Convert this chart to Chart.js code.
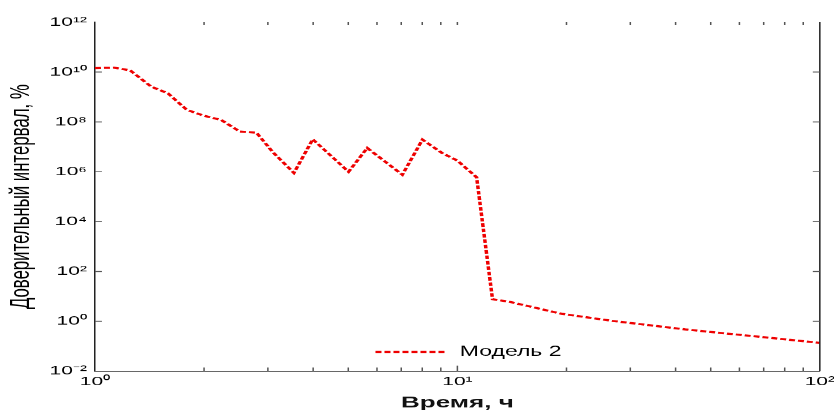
<!DOCTYPE html>
<html>
<head>
<meta charset="utf-8">
<script src="https://cdn.jsdelivr.net/npm/chart.js@4/dist/chart.umd.min.js"></script>
<style>
  html, body { margin: 0; padding: 0; background: #fff; overflow: hidden; }
  #wrap { width: 834px; height: 410px; overflow: hidden; }
  /* the source figure is squashed vertically, so the chart is drawn tall and scaled down */
  #chart { transform: scaleY(0.6); transform-origin: 0 0; }
</style>
</head>
<body>
<div id="wrap">
  <canvas id="chart" width="840" height="691"></canvas>
</div>
<script>
// ----------------------------
// Data
// ----------------------------
const timeH = [1, 1.13, 1.25, 1.43, 1.59, 1.79, 1.99, 2.23, 2.51, 2.79, 3.1, 3.54, 3.99,
  5.01, 5.64, 7.05, 8.01, 9.1, 10, 11.3, 12.5, 13.9, 19.4, 26.9, 42.5, 100];
const model2 = [1.45e10, 1.5e10, 1.17e10, 2.6e9, 1.4e9, 3.1e8, 1.8e8, 1.2e8, 4.1e7, 3.7e7, 6e6, 9e5, 2e7,
  1e6, 9e6, 7.6e5, 1.95e7, 5.5e6, 2.8e6, 6e5, 7.7, 6.1, 2.0, 1.03, 0.475, 0.137];

const xMajor = [1, 10, 100];
const xMinor = [2, 3, 4, 5, 6, 7, 8, 9, 20, 30, 40, 50, 60, 70, 80, 90];
const yMajor = [1e-2, 1e0, 1e2, 1e4, 1e6, 1e8, 1e10, 1e12];

const seriesLabel = 'Модель 2';
const xTitle = 'Время, ч';
const yTitle = 'Доверительный интервал, %';

// ----------------------------
// Helpers
// ----------------------------
const SUP = { '-': '⁻', '0': '⁰', '1': '¹', '2': '²', '3': '³', '4': '⁴', '5': '⁵', '6': '⁶', '7': '⁷', '8': '⁸', '9': '⁹' };
function powLabel(v) {
  const e = String(Math.round(Math.log10(v)));
  return '10' + e.split('').map(c => SUP[c]).join('');
}
const isMajor = (list, v) => list.some(m => Math.abs(Math.log10(m) - Math.log10(v)) < 1e-6);

// inward ticks on all four sides + right frame line
const frameTicks = {
  id: 'frameTicks',
  afterDatasetsDraw(chart) {
    const { ctx, chartArea: a, scales: { x, y } } = chart;
    ctx.save();
    ctx.lineWidth = 1.5;
    ctx.strokeStyle = '#222';
    ctx.beginPath();
    ctx.moveTo(a.right, a.top);
    ctx.lineTo(a.right, a.bottom);
    ctx.stroke();

    ctx.strokeStyle = '#555';
    ctx.beginPath();
    x.ticks.forEach(t => {
      const px = x.getPixelForValue(t.value);
      if (px <= a.left + 1 || px >= a.right - 1) return;
      const len = isMajor(xMajor, t.value) ? 9 : 6;
      ctx.moveTo(px, a.bottom); ctx.lineTo(px, a.bottom - len);
      ctx.moveTo(px, a.top); ctx.lineTo(px, a.top + 5);
    });
    y.ticks.forEach(t => {
      const py = y.getPixelForValue(t.value);
      if (py <= a.top + 1 || py >= a.bottom - 1) return;
      ctx.moveTo(a.left, py); ctx.lineTo(a.left + 7, py);
      ctx.moveTo(a.right, py); ctx.lineTo(a.right - 7, py);
    });
    ctx.stroke();
    ctx.restore();
  }
};

// legend drawn inside the plot, near the bottom
const innerLegend = {
  id: 'innerLegend',
  afterDraw(chart) {
    const { ctx, chartArea: a } = chart;
    const ds = chart.data.datasets[0];
    const w = a.right - a.left;
    const x0 = a.left + w * 0.387;
    const x1 = a.left + w * 0.484;
    const yy = a.top + (a.bottom - a.top) * 0.945;
    ctx.save();
    ctx.strokeStyle = ds.borderColor;
    ctx.lineWidth = ds.borderWidth;
    ctx.setLineDash(ds.borderDash);
    ctx.beginPath();
    ctx.moveTo(x0, yy);
    ctx.lineTo(x1, yy);
    ctx.stroke();
    ctx.setLineDash([]);
    ctx.fillStyle = '#000';
    ctx.font = '23px "Liberation Sans", Arial, sans-serif';
    ctx.textBaseline = 'middle';
    ctx.fillText(ds.label, x1 + 14, yy);
    ctx.restore();
  }
};

// ----------------------------
// Chart
// ----------------------------
const tickFont = { family: '"Liberation Sans", Arial, sans-serif', size: 21 };

new Chart(document.getElementById('chart').getContext('2d'), {
  type: 'line',
  data: {
    datasets: [{
      label: seriesLabel,
      data: timeH.map((t, i) => ({ x: t, y: model2[i] })),
      borderColor: '#ee0000',
      borderWidth: 3.5,
      borderDash: [6, 3],
      pointRadius: 0,
      tension: 0,
      fill: false
    }]
  },
  options: {
    responsive: false,
    animation: false,
    devicePixelRatio: 1,
    layout: { padding: { left: 0, top: 37, right: 0, bottom: 0 } },
    plugins: { legend: { display: false }, tooltip: { enabled: false } },
    scales: {
      x: {
        type: 'logarithmic',
        min: 1,
        max: 100,
        afterBuildTicks: s => { s.ticks = xMajor.concat(xMinor).sort((a, b) => a - b).map(v => ({ value: v })); },
        ticks: {
          autoSkip: false,
          maxRotation: 0,
          padding: 5,
          color: '#000',
          font: tickFont,
          callback: v => isMajor(xMajor, v) ? powLabel(v) : ''
        },
        grid: { display: true, drawOnChartArea: false, drawTicks: false },
        border: { display: true, color: '#222', width: 1.5 },
        title: {
          display: true,
          text: xTitle,
          color: '#111',
          padding: { top: 2, bottom: 4 },
          font: { family: '"Liberation Sans", Arial, sans-serif', size: 26, weight: 'bold' }
        }
      },
      y: {
        type: 'logarithmic',
        min: 1e-2,
        max: 1e12,
        afterBuildTicks: s => { s.ticks = yMajor.map(v => ({ value: v })); },
        ticks: {
          autoSkip: false,
          padding: 8,
          color: '#000',
          font: tickFont,
          callback: v => powLabel(v)
        },
        grid: { display: true, drawOnChartArea: false, drawTicks: false },
        border: { display: true, color: '#222', width: 1.5 },
        title: {
          display: true,
          text: yTitle,
          color: '#000',
          padding: { top: 4, bottom: 4 },
          font: { family: '"Liberation Sans", Arial, sans-serif', size: 28 }
        }
      }
    }
  },
  plugins: [frameTicks, innerLegend]
});
</script>
</body>
</html>
